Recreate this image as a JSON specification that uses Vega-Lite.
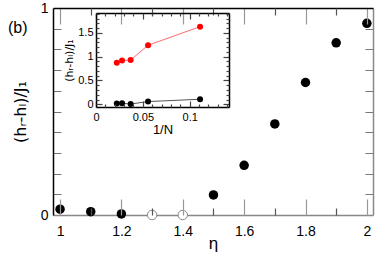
{
  "$schema": "https://vega.github.io/schema/vega-lite/v6.json",
  "autosize": {"type": "none"},
  "padding": {"left": 53, "top": 8, "right": 9, "bottom": 52},
  "width": 320,
  "height": 207,
  "title": {"text": "(b)", "anchor": "start", "frame": "group", "dx": -45, "offset": -20, "dy": 23, "fontSize": 16, "fontWeight": "normal", "font": "Liberation Sans", "baseline": "middle"},
  "datasets": {
    "main": [
      {"eta": 1.0, "d": 0.028, "open": 0},
      {"eta": 1.1, "d": 0.016, "open": 0},
      {"eta": 1.2, "d": 0.005, "open": 0},
      {"eta": 1.3, "d": 0.0, "open": 1},
      {"eta": 1.4, "d": 0.0, "open": 1},
      {"eta": 1.5, "d": 0.097, "open": 0},
      {"eta": 1.6, "d": 0.24, "open": 0},
      {"eta": 1.7, "d": 0.44, "open": 0},
      {"eta": 1.8, "d": 0.64, "open": 0},
      {"eta": 1.9, "d": 0.832, "open": 0},
      {"eta": 2.0, "d": 0.926, "open": 0}
    ],
    "inset": [
      {"invN": 0.0222, "d": 0.87, "series": "upper"},
      {"invN": 0.0278, "d": 0.92, "series": "upper"},
      {"invN": 0.037, "d": 0.93, "series": "upper"},
      {"invN": 0.0556, "d": 1.24, "series": "upper"},
      {"invN": 0.1111, "d": 1.63, "series": "upper"},
      {"invN": 0.0222, "d": 0.015, "series": "lower"},
      {"invN": 0.0278, "d": 0.02, "series": "lower"},
      {"invN": 0.037, "d": 0.006, "series": "lower"},
      {"invN": 0.0556, "d": 0.057, "series": "lower"},
      {"invN": 0.1111, "d": 0.106, "series": "lower"}
    ]
  },
  "resolve": {"scale": {"x": "independent", "y": "independent", "color": "independent"}},
  "layer": [
    {
      "data": {"name": "main"},
      "mark": {"type": "point", "shape": "circle", "filled": true, "size": 90, "opacity": 0},
      "encoding": {
        "x": {"field": "eta", "type": "quantitative",
          "scale": {"domain": [0.977, 2.02], "nice": false, "zero": false},
          "axis": {"orient": "top", "offset": -207, "zindex": 1, "values": [1, 1.2, 1.4, 1.6, 1.8, 2],
            "labels": false, "domain": false, "title": null, "ticks": true, "tickSize": 16, "tickWidth": 1.2, "tickOpacity": 1, "tickColor": "#999999"}},
        "y": {"field": "d", "type": "quantitative",
          "scale": {"domain": [0, 1], "nice": false, "zero": false},
          "axis": {"orient": "right", "offset": -320, "values": [0.1, 0.2, 0.3, 0.4, 0.5, 0.6, 0.7, 0.8, 0.9],
            "labels": false, "domain": false, "title": null, "ticks": true, "tickSize": 8, "tickColor": "#777777"}}
      }
    },
    {
      "data": {"name": "main"},
      "mark": {"type": "point", "shape": "circle", "filled": true, "size": 90, "opacity": 0},
      "encoding": {
        "x": {"field": "eta", "type": "quantitative",
          "scale": {"domain": [0.977, 2.02], "nice": false, "zero": false},
          "axis": {"orient": "top", "offset": -207, "zindex": 1, "values": [1.1, 1.3, 1.5, 1.7, 1.9],
            "labels": false, "domain": false, "title": null, "ticks": true, "tickSize": 7, "tickWidth": 1.2, "tickOpacity": 1, "tickColor": "#555555"}},
        "y": {"field": "d", "type": "quantitative",
          "scale": {"domain": [0, 1], "nice": false, "zero": false}, "axis": null}
      }
    },
    {
      "data": {"name": "main"},
      "mark": {"type": "point", "shape": "circle", "filled": true, "size": 90, "opacity": 0},
      "encoding": {
        "x": {"field": "eta", "type": "quantitative",
          "scale": {"domain": [0.977, 2.02], "nice": false, "zero": false},
          "axis": {"orient": "bottom", "offset": -207, "zindex": 1, "values": [1, 1.2, 1.4, 1.6, 1.8, 2],
            "labels": false, "title": null, "ticks": true, "tickSize": 16, "tickWidth": 1.2, "tickOpacity": 1, "tickColor": "#999999",
            "domainColor": "#000000", "domainWidth": 1.5}},
        "y": {"field": "d", "type": "quantitative",
          "scale": {"domain": [0, 1], "nice": false, "zero": false},
          "axis": {"orient": "left", "offset": -320, "values": [0.1, 0.2, 0.3, 0.4, 0.5, 0.6, 0.7, 0.8, 0.9],
            "labels": false, "title": null, "ticks": true, "tickSize": 8, "tickColor": "#777777",
            "domainColor": "#888888", "domainWidth": 1.5}}
      }
    },
    {
      "data": {"name": "main"},
      "transform": [{"filter": "datum.open == 1"}],
      "mark": {"type": "point", "shape": "circle", "filled": true, "fill": "white", "stroke": "#888888", "strokeWidth": 1, "size": 90, "opacity": 1},
      "encoding": {
        "x": {"field": "eta", "type": "quantitative",
          "scale": {"domain": [0.977, 2.02], "nice": false, "zero": false},
          "axis": {"orient": "bottom", "offset": -207, "zindex": 1, "values": [1.1, 1.3, 1.5, 1.7, 1.9],
            "labels": false, "domain": false, "title": null, "ticks": true, "tickSize": 7, "tickWidth": 1.2, "tickOpacity": 1, "tickColor": "#555555"}},
        "y": {"field": "d", "type": "quantitative",
          "scale": {"domain": [0, 1], "nice": false, "zero": false}, "axis": null}
      }
    },
    {
      "data": {"name": "main"},
      "transform": [{"filter": "datum.open == 0"}],
      "mark": {"type": "point", "shape": "circle", "filled": true, "size": 90, "color": "black", "opacity": 1},
      "encoding": {
        "x": {"field": "eta", "type": "quantitative",
          "scale": {"domain": [0.977, 2.02], "nice": false, "zero": false},
          "axis": {"orient": "bottom", "values": [1, 1.2, 1.4, 1.6, 1.8, 2], "format": "~g",
            "ticks": false, "labelPadding": 9, "labelFontSize": 14, "labelColor": "black", "labelFlush": false, "labelOverlap": false,
            "domainColor": "#888888", "domainWidth": 1.5,
            "title": "η", "titleFontSize": 17, "titleFontWeight": "normal", "titleColor": "black", "titlePadding": -3}},
        "y": {"field": "d", "type": "quantitative",
          "scale": {"domain": [0, 1], "nice": false, "zero": false},
          "axis": {"orient": "left", "values": [0, 1], "format": "~g",
            "ticks": false, "labelPadding": 5, "labelFontSize": 14, "labelColor": "black", "labelFlush": false, "labelOverlap": false,
            "domainColor": "#000000", "domainWidth": 1.5,
            "title": "(hᵣ-hₗ)/J₁", "titleFont": "DejaVu Sans", "titleFontSize": 16, "titleFontWeight": "normal", "titleColor": "black", "titlePadding": 12}}
      }
    },
    {
      "data": {"values": [{}]},
      "mark": {"type": "rect", "fill": "white"},
      "encoding": {
        "x": {"datum": 0, "type": "quantitative",
          "scale": {"domain": [0, 0.142], "range": [43, 176], "nice": false, "zero": false},
          "axis": {"orient": "bottom", "offset": -108, "zindex": 1,
            "values": [0, 0.05, 0.1], "format": "~g",
            "ticks": false, "labelPadding": 4, "labelFontSize": 11, "labelColor": "black", "labelFlush": false, "labelOverlap": false,
            "domainColor": "#000000", "domainWidth": 1.5,
            "title": "1/N", "titleFontSize": 13, "titleFontWeight": "normal", "titleColor": "black", "titlePadding": 1}},
        "x2": {"datum": 0.142},
        "y": {"datum": -0.057, "type": "quantitative",
          "scale": {"domain": [-0.057, 1.917], "range": [99, 5], "nice": false, "zero": false},
          "axis": {"orient": "left", "offset": -43, "zindex": 1,
            "values": [0, 0.5, 1, 1.5], "format": "~g",
            "ticks": false, "labelPadding": 3, "labelFontSize": 11, "labelColor": "black", "labelFlush": false, "labelOverlap": false,
            "domainColor": "#000000", "domainWidth": 1.5,
            "title": "(hᵣ-hₗ)/J₁", "titleFont": "DejaVu Sans", "titleFontSize": 11, "titleFontWeight": "normal", "titleColor": "black", "titlePadding": 3}},
        "y2": {"datum": 1.917}
      }
    },
    {
      "data": {"name": "inset"},
      "mark": {"type": "line", "strokeWidth": 1},
      "encoding": {
        "x": {"field": "invN", "type": "quantitative",
          "scale": {"domain": [0, 0.142], "range": [43, 176], "nice": false, "zero": false},
          "axis": {"orient": "top", "offset": -99, "zindex": 1, "values": [0, 0.05, 0.1],
            "labels": false, "domain": false, "title": null, "ticks": true, "tickSize": 6, "tickWidth": 1.2, "tickColor": "#444444"}},
        "y": {"field": "d", "type": "quantitative",
          "scale": {"domain": [-0.057, 1.917], "range": [99, 5], "nice": false, "zero": false},
          "axis": {"orient": "right", "offset": -277, "zindex": 1, "values": [0, 0.5, 1, 1.5],
            "labels": false, "domain": false, "title": null, "ticks": true, "tickSize": 6, "tickWidth": 1.2, "tickColor": "#444444"}},
        "color": {"field": "series", "type": "nominal",
          "scale": {"domain": ["upper", "lower"], "range": ["#ff6a6a", "#555555"]}, "legend": null}
      }
    },
    {
      "data": {"name": "inset"},
      "mark": {"type": "point", "shape": "circle", "filled": true, "size": 36, "opacity": 0},
      "encoding": {
        "x": {"field": "invN", "type": "quantitative",
          "scale": {"domain": [0, 0.142], "range": [43, 176], "nice": false, "zero": false},
          "axis": {"orient": "top", "offset": -99, "zindex": 1,
            "values": [0.01, 0.02, 0.03, 0.04, 0.06, 0.07, 0.08, 0.09, 0.11, 0.12, 0.13, 0.14],
            "labels": false, "domain": false, "title": null, "ticks": true, "tickSize": 3, "tickWidth": 1.2, "tickColor": "#444444"}},
        "y": {"field": "d", "type": "quantitative",
          "scale": {"domain": [-0.057, 1.917], "range": [99, 5], "nice": false, "zero": false},
          "axis": {"orient": "right", "offset": -277, "zindex": 1,
            "values": [0.1, 0.2, 0.3, 0.4, 0.6, 0.7, 0.8, 0.9, 1.1, 1.2, 1.3, 1.4, 1.6, 1.7, 1.8, 1.9],
            "labels": false, "domain": false, "title": null, "ticks": true, "tickSize": 3, "tickWidth": 1.2, "tickColor": "#444444"}}
      }
    },
    {
      "data": {"name": "inset"},
      "mark": {"type": "point", "shape": "circle", "filled": true, "size": 36, "opacity": 0},
      "encoding": {
        "x": {"field": "invN", "type": "quantitative",
          "scale": {"domain": [0, 0.142], "range": [43, 176], "nice": false, "zero": false},
          "axis": {"orient": "bottom", "offset": -202, "zindex": 1, "values": [0, 0.05, 0.1],
            "labels": false, "title": null, "ticks": true, "tickSize": 6, "tickWidth": 1.2, "tickColor": "#444444",
            "domainColor": "#000000", "domainWidth": 1.5}},
        "y": {"field": "d", "type": "quantitative",
          "scale": {"domain": [-0.057, 1.917], "range": [99, 5], "nice": false, "zero": false},
          "axis": {"orient": "left", "offset": -176, "zindex": 1, "values": [0, 0.5, 1, 1.5],
            "labels": false, "title": null, "ticks": true, "tickSize": 6, "tickWidth": 1.2, "tickColor": "#444444",
            "domainColor": "#000000", "domainWidth": 1.5}}
      }
    },
    {
      "data": {"name": "inset"},
      "mark": {"type": "point", "shape": "circle", "filled": true, "size": 36, "opacity": 1},
      "encoding": {
        "x": {"field": "invN", "type": "quantitative",
          "scale": {"domain": [0, 0.142], "range": [43, 176], "nice": false, "zero": false},
          "axis": {"orient": "bottom", "offset": -202, "zindex": 1,
            "values": [0.01, 0.02, 0.03, 0.04, 0.06, 0.07, 0.08, 0.09, 0.11, 0.12, 0.13, 0.14],
            "labels": false, "domain": false, "title": null, "ticks": true, "tickSize": 3, "tickWidth": 1.2, "tickColor": "#444444"}},
        "y": {"field": "d", "type": "quantitative",
          "scale": {"domain": [-0.057, 1.917], "range": [99, 5], "nice": false, "zero": false},
          "axis": {"orient": "left", "offset": -176, "zindex": 1,
            "values": [0.1, 0.2, 0.3, 0.4, 0.6, 0.7, 0.8, 0.9, 1.1, 1.2, 1.3, 1.4, 1.6, 1.7, 1.8, 1.9],
            "labels": false, "domain": false, "title": null, "ticks": true, "tickSize": 3, "tickWidth": 1.2, "tickColor": "#444444"}},
        "color": {"field": "series", "type": "nominal",
          "scale": {"domain": ["upper", "lower"], "range": ["#ff0000", "#000000"]}, "legend": null}
      }
    }
  ],
  "config": {
    "font": "Liberation Sans",
    "view": {"stroke": null},
    "axis": {"grid": false, "labelFont": "Liberation Sans", "titleFont": "Liberation Sans"}
  }
}
